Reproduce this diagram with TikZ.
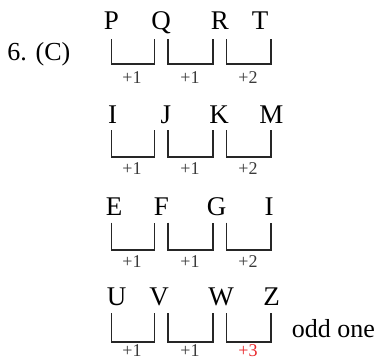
\documentclass[tikz,border=0pt]{standalone}
\usepackage{fontspec}
\setmainfont{Liberation Serif}
\definecolor{labgray}{HTML}{3A3A3A}
\definecolor{oddred}{HTML}{E8262A}
\newcommand\bracketrow[5]{%
  \coordinate (#1a1) at (111.5,#2); \coordinate (#1b1) at (154.5,#3);
  \coordinate (#1a2) at (168.3,#2); \coordinate (#1b2) at (212.7,#3);
  \coordinate (#1a3) at (226.5,#2); \coordinate (#1b3) at (270.7,#3);
  \foreach \k in {1,2,3}{\draw[brk] (#1a\k) |- (#1b\k) -- (#1b\k |- #1a\k);}
  \node[lab] (#1l1) at (132,#4) {+1};
  \node[lab] (#1l2) at (190,#4) {+1};
  \node[lab] (#1l3) at (248,#4) {#5};
}
\begin{document}
\begin{tikzpicture}[x=1pt,y=-1pt,
  letter/.style={font=\fontsize{27}{27}\selectfont, anchor=base, inner sep=0pt},
  lab/.style={font=\fontsize{18}{18}\selectfont, text=labgray, inner sep=0pt},
  txt/.style={font=\fontsize{26}{26}\selectfont, anchor=base west, inner sep=0pt},
  brk/.style={line width=1.8pt, line join=miter, draw=black!85}]
\useasboundingbox (0,0) rectangle (378,360);
\node[txt] (num) at (7.3,60) {6. (C)};
% row 1
\node[letter] (P) at (111.5,29) {P};
\node[letter] (Q) at (161,29) {Q};
\node[letter] (R) at (220,29) {R};
\node[letter] (T) at (260,29) {T};
\bracketrow{a}{39}{64}{77.5}{+2}
% row 2
\node[letter] (I1) at (112.5,123) {I};
\node[letter] (J) at (166,123) {J};
\node[letter] (K) at (219,123) {K};
\node[letter] (M) at (271.5,123) {M};
\bracketrow{b}{130}{157}{168.5}{+2}
% row 3
\node[letter] (E) at (114,215.7) {E};
\node[letter] (F) at (161.5,215.7) {F};
\node[letter] (G) at (216.7,215.7) {G};
\node[letter] (I2) at (269,215.7) {I};
\bracketrow{c}{222.7}{250}{261.5}{+2}
% row 4
\node[letter] (U) at (116.7,305.7) {U};
\node[letter] (V) at (159,305.7) {V};
\node[letter] (W) at (221,305.7) {W};
\node[letter] (Z) at (271.5,305.7) {Z};
\bracketrow{d}{313}{341.7}{350.5}{\textcolor{oddred}{+3}}
\node[txt] (odd) at (291.7,337.7) {odd one};
\end{tikzpicture}
\end{document}
